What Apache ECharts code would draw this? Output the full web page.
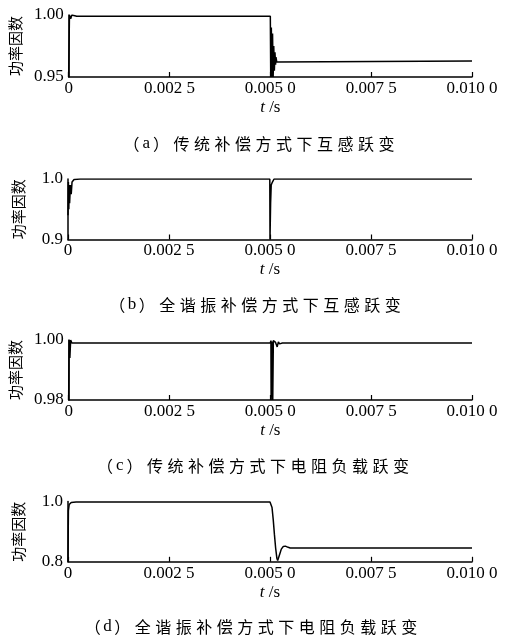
<!DOCTYPE html>
<html>
<head>
<meta charset="utf-8">
<script src="https://cdn.jsdelivr.net/npm/echarts@6/dist/echarts.min.js"></script>
<style>
html,body{margin:0;padding:0;background:#fff;}
#c{width:505px;height:642px;}
</style>
</head>
<body>
<div id="c"></div>
<script>
// ---- data ----
const xTickLabels = ['0', '0.002 5', '0.005 0', '0.007 5', '0.010 0'];
const yAxisName = '功率因数';
const captions = [
  '（a）传统补偿方式下互感跃变',
  '（b）全谐振补偿方式下互感跃变',
  '（c）传统补偿方式下电阻负载跃变',
  '（d）全谐振补偿方式下电阻负载跃变'
];
const yMins = [0.95, 0.9, 0.98, 0.8];
const yMaxs = [1.00, 1.0, 1.00, 1.0];
const yDecimals = [2, 1, 2, 1];

// (a) conventional compensation, mutual inductance step
const tA  = [0, 0.00002, 0.00005, 0.00008, 0.00012, 0.0002, 0.005, 0.00501, 0.005025, 0.00504, 0.005055, 0.00507, 0.005085, 0.0051, 0.005115, 0.00513, 0.00514, 0.00516, 0.0052, 0.01];
const pfA = [0.95, 1.0, 0.997, 1.0, 0.9985, 0.999, 0.999, 0.95, 0.99, 0.95, 0.985, 0.95, 0.975, 0.955, 0.97, 0.96, 0.966, 0.962, 0.963, 0.963];

// (b) full resonance compensation, mutual inductance step
const tB  = [0, 0.00001, 0.00002, 0.00003, 0.00004, 0.00006, 0.00008, 0.0001, 0.00015, 0.0003, 0.004995, 0.005, 0.005015, 0.00503, 0.00506, 0.0051, 0.01];
const pfB = [0.94, 0.995, 0.95, 0.99, 0.96, 0.99, 0.975, 0.995, 0.999, 1.0, 1.0, 0.9, 0.96, 0.99, 0.995, 1.0, 1.0];

// (c) conventional compensation, resistive load step
const tC  = [0, 0.00001, 0.00003, 0.00005, 0.00008, 0.00012, 0.005, 0.005015, 0.00502, 0.005045, 0.00506, 0.005075, 0.00511, 0.00513, 0.005145, 0.00517, 0.0052, 0.00523, 0.00527, 0.0053, 0.01];
const pfC = [0.98, 1.0, 0.994, 1.0, 0.999, 0.999, 0.999, 0.9998, 0.98, 0.9995, 0.98, 0.9998, 1.0003, 0.9992, 0.9998, 0.9977, 0.9994, 0.9987, 0.9991, 0.999, 0.999];

// (d) full resonance compensation, resistive load step
const tD  = [0, 0.00001, 0.00003, 0.00008, 0.0002, 0.005, 0.00502, 0.00505, 0.00508, 0.00511, 0.00514, 0.00517, 0.00519, 0.00521, 0.00524, 0.00528, 0.00533, 0.00538, 0.00545, 0.0055, 0.01];
const pfD = [0.8, 0.97, 0.99, 0.997, 0.998, 0.998, 0.995, 0.98, 0.94, 0.89, 0.845, 0.812, 0.804, 0.808, 0.825, 0.842, 0.851, 0.852, 0.848, 0.846, 0.846];

const seriesT = [tA, tB, tC, tD];
const seriesV = [pfA, pfB, pfC, pfD];

// ---- layout ----
const gridTops = [15, 179, 340, 501.5];
const gridHeights = [62, 60.5, 60, 60.3];
const captionYs = [144, 305, 466, 627];
const captionXs = [259, 255, 253, 251];
const numFont = '"Liberation Serif", "Times New Roman", serif';
const cjkFont = '"Noto Sans CJK SC", sans-serif';

function captionRich(s) {
  return s.split('').map(ch => (/[a-z]/.test(ch) ? '{n|' : '{c|') + ch + '}').join('');
}

const chart = echarts.init(document.getElementById('c'), null, {renderer: 'canvas'});

const grids = [], xAxes = [], yAxes = [], series = [], graphics = [];
for (let i = 0; i < 4; i++) {
  grids.push({left: 68, width: 404, top: gridTops[i], height: gridHeights[i], containLabel: false});
  xAxes.push({
    type: 'value', gridIndex: i, min: 0, max: 0.01, interval: 0.0025,
    axisLine: {show: true, onZero: false, lineStyle: {color: '#000', width: 1.5}},
    axisTick: {show: true, inside: true, length: 5, lineStyle: {color: '#000', width: 1.2}},
    splitLine: {show: false},
    axisLabel: {
      color: '#000', fontFamily: numFont, fontSize: 17, margin: 3,
      formatter: v => xTickLabels[Math.round(v / 0.0025)]
    },
    name: '{i|t} /s', nameLocation: 'middle', nameGap: 22,
    nameTextStyle: {
      color: '#000', fontFamily: numFont, fontSize: 17,
      rich: {i: {fontStyle: 'italic', fontFamily: numFont, fontSize: 17, color: '#000'}}
    }
  });
  const d = yDecimals[i];
  yAxes.push({
    type: 'value', gridIndex: i, min: yMins[i], max: yMaxs[i], interval: +(yMaxs[i] - yMins[i]).toFixed(3),
    axisLine: {show: true, onZero: false, lineStyle: {color: '#000', width: 1.5}},
    axisTick: {show: false},
    splitLine: {show: false},
    axisLabel: {color: '#000', fontFamily: numFont, fontSize: 17, margin: 5, formatter: v => v.toFixed(d)},
    name: yAxisName, nameLocation: 'middle', nameGap: 42, nameRotate: 90,
    nameTextStyle: {color: '#000', fontFamily: cjkFont, fontSize: 15}
  });
  series.push({
    type: 'line', xAxisIndex: i, yAxisIndex: i,
    data: seriesT[i].map((t, k) => [t, seriesV[i][k]]),
    showSymbol: false, clip: true,
    lineStyle: {color: '#000', width: 1.5},
    animation: false
  });
  graphics.push({
    type: 'text', x: captionXs[i], y: captionYs[i],
    style: {
      text: captionRich(captions[i]),
      fill: '#000', align: 'center', verticalAlign: 'middle',
      rich: {
        c: {fontFamily: cjkFont, fontSize: 16, width: 20.5, align: 'center', fill: '#000'},
        n: {fontFamily: numFont, fontSize: 17, width: 9, align: 'center', fill: '#000'}
      }
    }
  });
}

chart.setOption({
  animation: false,
  backgroundColor: '#fff',
  grid: grids, xAxis: xAxes, yAxis: yAxes, series: series,
  graphic: graphics
});
</script>
</body>
</html>
